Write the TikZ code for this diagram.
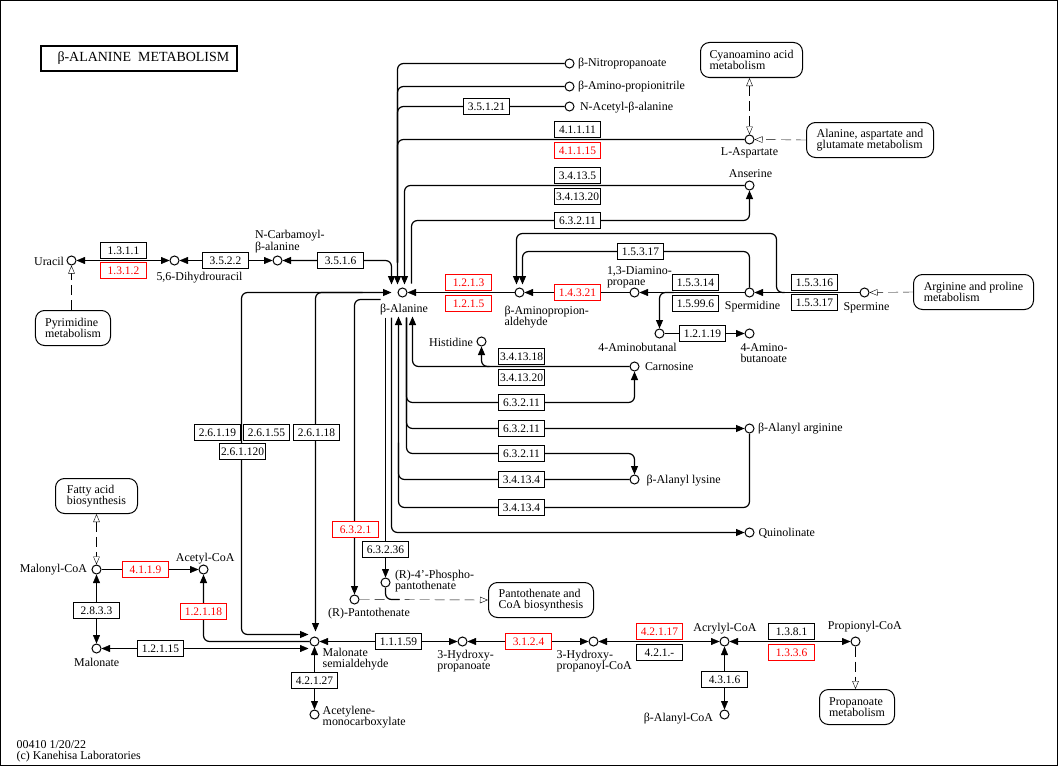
\documentclass[tikz,border=0pt]{standalone}
\usepackage{fontspec}
\setmainfont{Liberation Serif}
\usetikzlibrary{arrows.meta,calc}
\pgfdeclarelayer{bg}
\pgfsetlayers{bg,main}
\definecolor{kred}{RGB}{255,0,0}
\begin{document}
\begin{tikzpicture}[x=1bp,y=-1bp,line width=1bp,
 cpd/.style={circle,draw,fill=white,minimum size=9bp,inner sep=0pt},
 enz/.style={draw,fill=white,minimum width=46bp,minimum height=16bp,inner sep=0pt,font=\fontsize{11.5}{12}\selectfont},
 enzr/.style={enz,draw=kred,text=kred},
 mapbox/.style={draw,fill=white,rounded corners=9bp,align=left,inner sep=0pt,font=\fontsize{12}{11.5}\selectfont},
 lbl/.style={inner sep=0pt,font=\fontsize{12}{11}\selectfont},
 ln/.style={rounded corners=6bp,line width=1.2bp},
 fa/.style={-{Triangle[length=8.5bp,width=7bp]}},
 fb/.style={{Triangle[length=8.5bp,width=7bp]}-{Triangle[length=8.5bp,width=7bp]}},
 oa/.style={dash pattern=on 10bp off 5bp,-{Triangle[open,length=8bp,width=6.5bp,fill=white]}},
 ob/.style={dash pattern=on 10bp off 5bp,{Triangle[open,length=8bp,width=6.5bp,fill=white]}-{Triangle[open,length=8bp,width=6.5bp,fill=white]}},
]
\useasboundingbox (0,0) rectangle (1060,767);
\draw[line width=1.5bp] (0.75,0.75) rectangle (1057.25,765.25);

\begin{scope}[shift={(0.5,0.5)}]
% title
\node[draw,line width=2bp,minimum width=195bp,minimum height=25bp,inner sep=0pt] (titlebox) at (138.5,58.5) {};
\node[lbl,anchor=west,font=\fontsize{14}{14}\selectfont] (title) at (56.5,58) {β-ALANINE\ \ METABOLISM};

% compounds
\node[cpd] (nitro) at (569,63) {};
\node[cpd] (amprop) at (569,86) {};
\node[cpd] (nacet) at (569,106) {};
\node[cpd] (lasp) at (749,139) {};
\node[cpd] (anser) at (749,185) {};
\node[cpd] (uracil) at (71,260) {};
\node[cpd] (dhu) at (174,260) {};
\node[cpd] (ncarb) at (277,260) {};
\node[cpd] (bala) at (402,292) {};
\node[cpd] (bapa) at (519,292) {};
\node[cpd] (dap) at (634,292) {};
\node[cpd] (spmd) at (749,292) {};
\node[cpd] (spm) at (864,292) {};
\node[cpd] (amb) at (659,333) {};
\node[cpd] (gaba) at (749,333) {};
\node[cpd] (his) at (481,341) {};
\node[cpd] (carn) at (634,366) {};
\node[cpd] (balarg) at (749,428) {};
\node[cpd] (balys) at (634,479) {};
\node[cpd] (quin) at (749,532) {};
\node[cpd] (malcoa) at (96,569) {};
\node[cpd] (acecoa) at (203,569) {};
\node[cpd] (malonate) at (96,648) {};
\node[cpd] (msa) at (314,641) {};
\node[cpd] (hp) at (462,641) {};
\node[cpd] (hpcoa) at (593,641) {};
\node[cpd] (acryl) at (724,641) {};
\node[cpd] (propcoa) at (855,641) {};
\node[cpd] (balacoa) at (724,714) {};
\node[cpd] (acetyl) at (314,714) {};
\node[cpd] (rpant) at (354,599) {};
\node[cpd] (rppant) at (385,582) {};

% map boxes
\node[mapbox,minimum width=102bp,minimum height=35bp] (cyano) at (751,59.5) {Cyanoamino acid\\metabolism};
\node[mapbox,minimum width=127bp,minimum height=35bp] (ala) at (869.5,139.5) {Alanine, aspartate and\\glutamate metabolism};
\node[mapbox,minimum width=75bp,minimum height=35bp] (pyr) at (72.5,327.5) {Pyrimidine\\metabolism};
\node[mapbox,minimum width=120bp,minimum height=35bp] (arg) at (973,291.5) {Arginine and proline\\metabolism};
\node[mapbox,minimum width=82bp,minimum height=35bp] (fatty) at (96,495.5) {Fatty acid\\biosynthesis};
\node[mapbox,minimum width=105bp,minimum height=35bp] (panto) at (540.5,599.5) {Pantothenate and\\CoA biosynthesis};
\node[mapbox,minimum width=75bp,minimum height=35bp] (propan) at (856.5,706.5) {Propanoate\\metabolism};

% enzymes
\node[enz] (e1) at (486,106) {3.5.1.21};
\node[enz] (e2) at (577,129) {4.1.1.11};
\node[enzr] (e3) at (577,150) {4.1.1.15};
\node[enz] (e4) at (577,175) {3.4.13.5};
\node[enz] (e5) at (577,196) {3.4.13.20};
\node[enz] (e6) at (577,220) {6.3.2.11};
\node[enz] (e7) at (123,250) {1.3.1.1};
\node[enzr] (e8) at (123,270) {1.3.1.2};
\node[enz] (e9) at (225,260) {3.5.2.2};
\node[enz] (e10) at (340,260) {3.5.1.6};
\node[enzr] (e11) at (468,282) {1.2.1.3};
\node[enzr] (e12) at (468,303) {1.2.1.5};
\node[enzr] (e13) at (577,292) {1.4.3.21};
\node[enz] (e14) at (640,251) {1.5.3.17};
\node[enz] (e15) at (695,282) {1.5.3.14};
\node[enz] (e16) at (695,303) {1.5.99.6};
\node[enz] (e17) at (814,282) {1.5.3.16};
\node[enz] (e18) at (814,302) {1.5.3.17};
\node[enz] (e19) at (702,333) {1.2.1.19};
\node[enz] (e20) at (521,356) {3.4.13.18};
\node[enz] (e21) at (521,377) {3.4.13.20};
\node[enz] (e22) at (521,402) {6.3.2.11};
\node[enz] (e23) at (521,428) {6.3.2.11};
\node[enz] (e24) at (521,453) {6.3.2.11};
\node[enz] (e25) at (521,479) {3.4.13.4};
\node[enz] (e26) at (521,507) {3.4.13.4};
\node[enz] (e27) at (217,432) {2.6.1.19};
\node[enz] (e28) at (266,432) {2.6.1.55};
\node[enz] (e29) at (316,432) {2.6.1.18};
\node[enz] (e30) at (242,451) {2.6.1.120};
\node[enzr] (e31) at (355,529) {6.3.2.1};
\node[enz] (e32) at (385,549) {6.3.2.36};
\node[enzr] (e33) at (145,569) {4.1.1.9};
\node[enz] (e34) at (96,610) {2.8.3.3};
\node[enzr] (e35) at (203,611) {1.2.1.18};
\node[enz] (e36) at (160,648) {1.2.1.15};
\node[enz] (e37) at (314,680) {4.2.1.27};
\node[enz] (e38) at (398,641) {1.1.1.59};
\node[enzr] (e39) at (528,641) {3.1.2.4};
\node[enzr] (e40) at (659,631) {4.2.1.17};
\node[enz] (e41) at (659,652) {4.2.1.-};
\node[enz] (e42) at (791,631) {1.3.8.1};
\node[enzr] (e43) at (791,652) {1.3.3.6};
\node[enz] (e44) at (724,679) {4.3.1.6};

% labels
\node[lbl,anchor=west] (l_nitro) at (577,63.5) {β-Nitropropanoate};
\node[lbl,anchor=west] (l_amprop) at (577,86) {β-Amino-propionitrile};
\node[lbl,anchor=west] (l_nacet) at (579,107) {N-Acetyl-β-alanine};
\node[lbl] (l_lasp) at (749,152.5) {L-Aspartate};
\node[lbl] (l_anser) at (750,173.5) {Anserine};
\node[lbl,anchor=east] (l_uracil) at (64,260.5) {Uracil};
\node[lbl] (l_dhu) at (199,277.5) {5,6-Dihydrouracil};
\node[lbl,anchor=west,align=left] (l_ncarb) at (254,241) {N-Carbamoyl-\\β-alanine};
\node[lbl] (l_bala) at (403.5,309) {β-Alanine};
\node[lbl,anchor=west,align=left] (l_bapa) at (503.5,316.5) {β-Aminopropion-\\aldehyde};
\node[lbl,anchor=west,align=left] (l_dap) at (606,276.5) {1,3-Diamino-\\propane};
\node[lbl] (l_spmd) at (752,306.5) {Spermidine};
\node[lbl] (l_spm) at (866,307.5) {Spermine};
\node[lbl] (l_amb) at (637,346.5) {4-Aminobutanal};
\node[lbl,anchor=west,align=left] (l_gaba) at (739.5,352.5) {4-Amino-\\butanoate};
\node[lbl,anchor=east] (l_his) at (473,341.5) {Histidine};
\node[lbl,anchor=west] (l_carn) at (644,366.5) {Carnosine};
\node[lbl,anchor=west] (l_balarg) at (757,428) {β-Alanyl arginine};
\node[lbl,anchor=west] (l_balys) at (645.5,480) {β-Alanyl lysine};
\node[lbl,anchor=west] (l_quin) at (757.5,533) {Quinolinate};
\node[lbl,anchor=west,align=left] (l_rppant) at (394,580.5) {(R)-4'-Phospho-\\pantothenate};
\node[lbl] (l_rpant) at (368.5,613) {(R)-Pantothenate};
\node[lbl,anchor=east] (l_malcoa) at (87,569.5) {Malonyl-CoA};
\node[lbl] (l_acecoa) at (204.7,557.7) {Acetyl-CoA};
\node[lbl] (l_malonate) at (96.2,662) {Malonate};
\node[lbl,anchor=west,align=left] (l_msa) at (321.7,658.2) {Malonate\\semialdehyde};
\node[lbl,anchor=west,align=left] (l_acetyl) at (321.7,716.3) {Acetylene-\\monocarboxylate};
\node[lbl,anchor=west,align=left] (l_hp) at (436.3,660.7) {3-Hydroxy-\\propanoate};
\node[lbl,anchor=west,align=left] (l_hpcoa) at (555.7,660.7) {3-Hydroxy-\\propanoyl-CoA};
\node[lbl] (l_acryl) at (724.5,627.7) {Acrylyl-CoA};
\node[lbl] (l_propcoa) at (864.3,626) {Propionyl-CoA};
\node[lbl,anchor=east] (l_balacoa) at (713,717.7) {β-Alanyl-CoA};
\node[lbl,anchor=west,align=left] (foot) at (15.7,751) {00410 1/20/22\\(c) Kanehisa Laboratories};

\begin{pgfonlayer}{bg}
% into beta-alanine from above
\draw[ln,fa] (nitro.west) -| ($(bala)+(-5,-8)$);
\draw[ln] (amprop.west) -| ($(bala)+(-5,-30)$);
\draw[ln] (nacet.west) -| ($(bala)+(-5,-30)$);
\draw[ln] (lasp.west) -| ($(bala)+(-5,-30)$);
\draw[ln,fa] (anser.west) -| ($(bala)+(2,-8)$);
\draw[ln,fa] ($(bala)+(9,-9)$) |- ($(anser)+(0,35)$) -- (anser.south);
\draw[ln,fb] (ncarb.east) -| ($(bala)+(-11,-8)$);
\draw[fb] (dhu.east) -- (ncarb.west);
\draw[fb] (uracil.east) -- (dhu.west);
\draw[oa] (uracil |- pyr.north) -- (uracil.south);
\draw[ob] (lasp |- cyano.south) -- (lasp.north);
\draw[oa] (ala.west) -- (lasp.east);
% right chain
\draw[fa] (bapa.west) -- (bala.east);
\draw[fa] (dap.west) -- (bapa.east);
\draw[fa] (spmd.west) -- (dap.east);
\draw[ln,fa] ($(amb |- dap)+(14,0)$) -| (amb.north);
\draw[fa] (amb.east) -- (gaba.west);
\draw[fa] (spm.west) -- (spmd.east);
\draw[oa] (arg.west) -- (spm.east);
\draw[ln,fa] (spmd.north) |- ($(bapa)+(3,-41)$) -- ($(bapa)+(3,-8)$);
\draw[ln,fa] ($(spmd)+(35,0)$) -| ($(spmd)+(27,-59)$) -| ($(bapa)+(-3,-8)$);
% below beta-alanine
\draw[ln,fa] (carn.west) -| ($(bala)+(10,24)$);
\draw[ln,fa] ($(his |- carn)+(8,0)$) -| (his.south);
\draw[ln,fa] ($(bala)+(4,25)$) |- ($(carn)+(0,36)$) -- (carn.south);
\draw[ln,fa] ($(bala)+(4,25)$) |- (balarg.west);
\draw[ln,fa] ($(bala)+(4,25)$) |- ($(balys)+(0,-26)$) -- (balys.north);
\draw[ln,fa] (balys.west) -| ($(bala)+(-4,24)$);
\draw[ln] (balarg.south) |- ($(bala)+(-4,215)$) -- ($(bala)+(-4,150)$);
\draw[ln,fa] ($(bala)+(-11,25)$) |- (quin.west);
\draw[fa] ($(bala)+(-17,25)$) -- (rppant.north);
\draw[ln,fa] ($(bala)+(-22,7)$) -| (rpant.north);
% left
\draw[ln,fb] ($(bala)+(-11,0)$) -| ($(msa)+(-73,-7)$) -- ($(msa)+(-6,-7)$);
\draw[ln,fa] ($(bala)+(-40,0)$) -| ($(msa)+(1,-10)$);
\draw[ln,fa] (msa.west) -| (acecoa.south);
\draw[fb] (malonate.east) -- ($(msa)+(-6,7)$);
\draw[fa] (malcoa.east) -- (acecoa.west);
\draw[fb] (malcoa.south) -- (malonate.north);
\draw[ob] (malcoa |- fatty.south) -- (malcoa.north);
% bottom chain
\draw[fb] (msa.south) -- (acetyl.north);
\draw[fb] (msa.east) -- (hp.west);
\draw[fb] (hp.east) -- (hpcoa.west);
\draw[fb] (hpcoa.east) -- (acryl.west);
\draw[fb] (acryl.east) -- (propcoa.west);
\draw[fb] (acryl.south) -- (balacoa.north);
\draw[oa] (propcoa.south) -- (propcoa |- propan.north);
\draw[oa] (rpant.east) -- (panto.west);
\draw[ln] (rppant.south) |- ($(rppant |- rpant)+(14,0)$);
\end{pgfonlayer}
\end{scope}
\end{tikzpicture}
\end{document}
